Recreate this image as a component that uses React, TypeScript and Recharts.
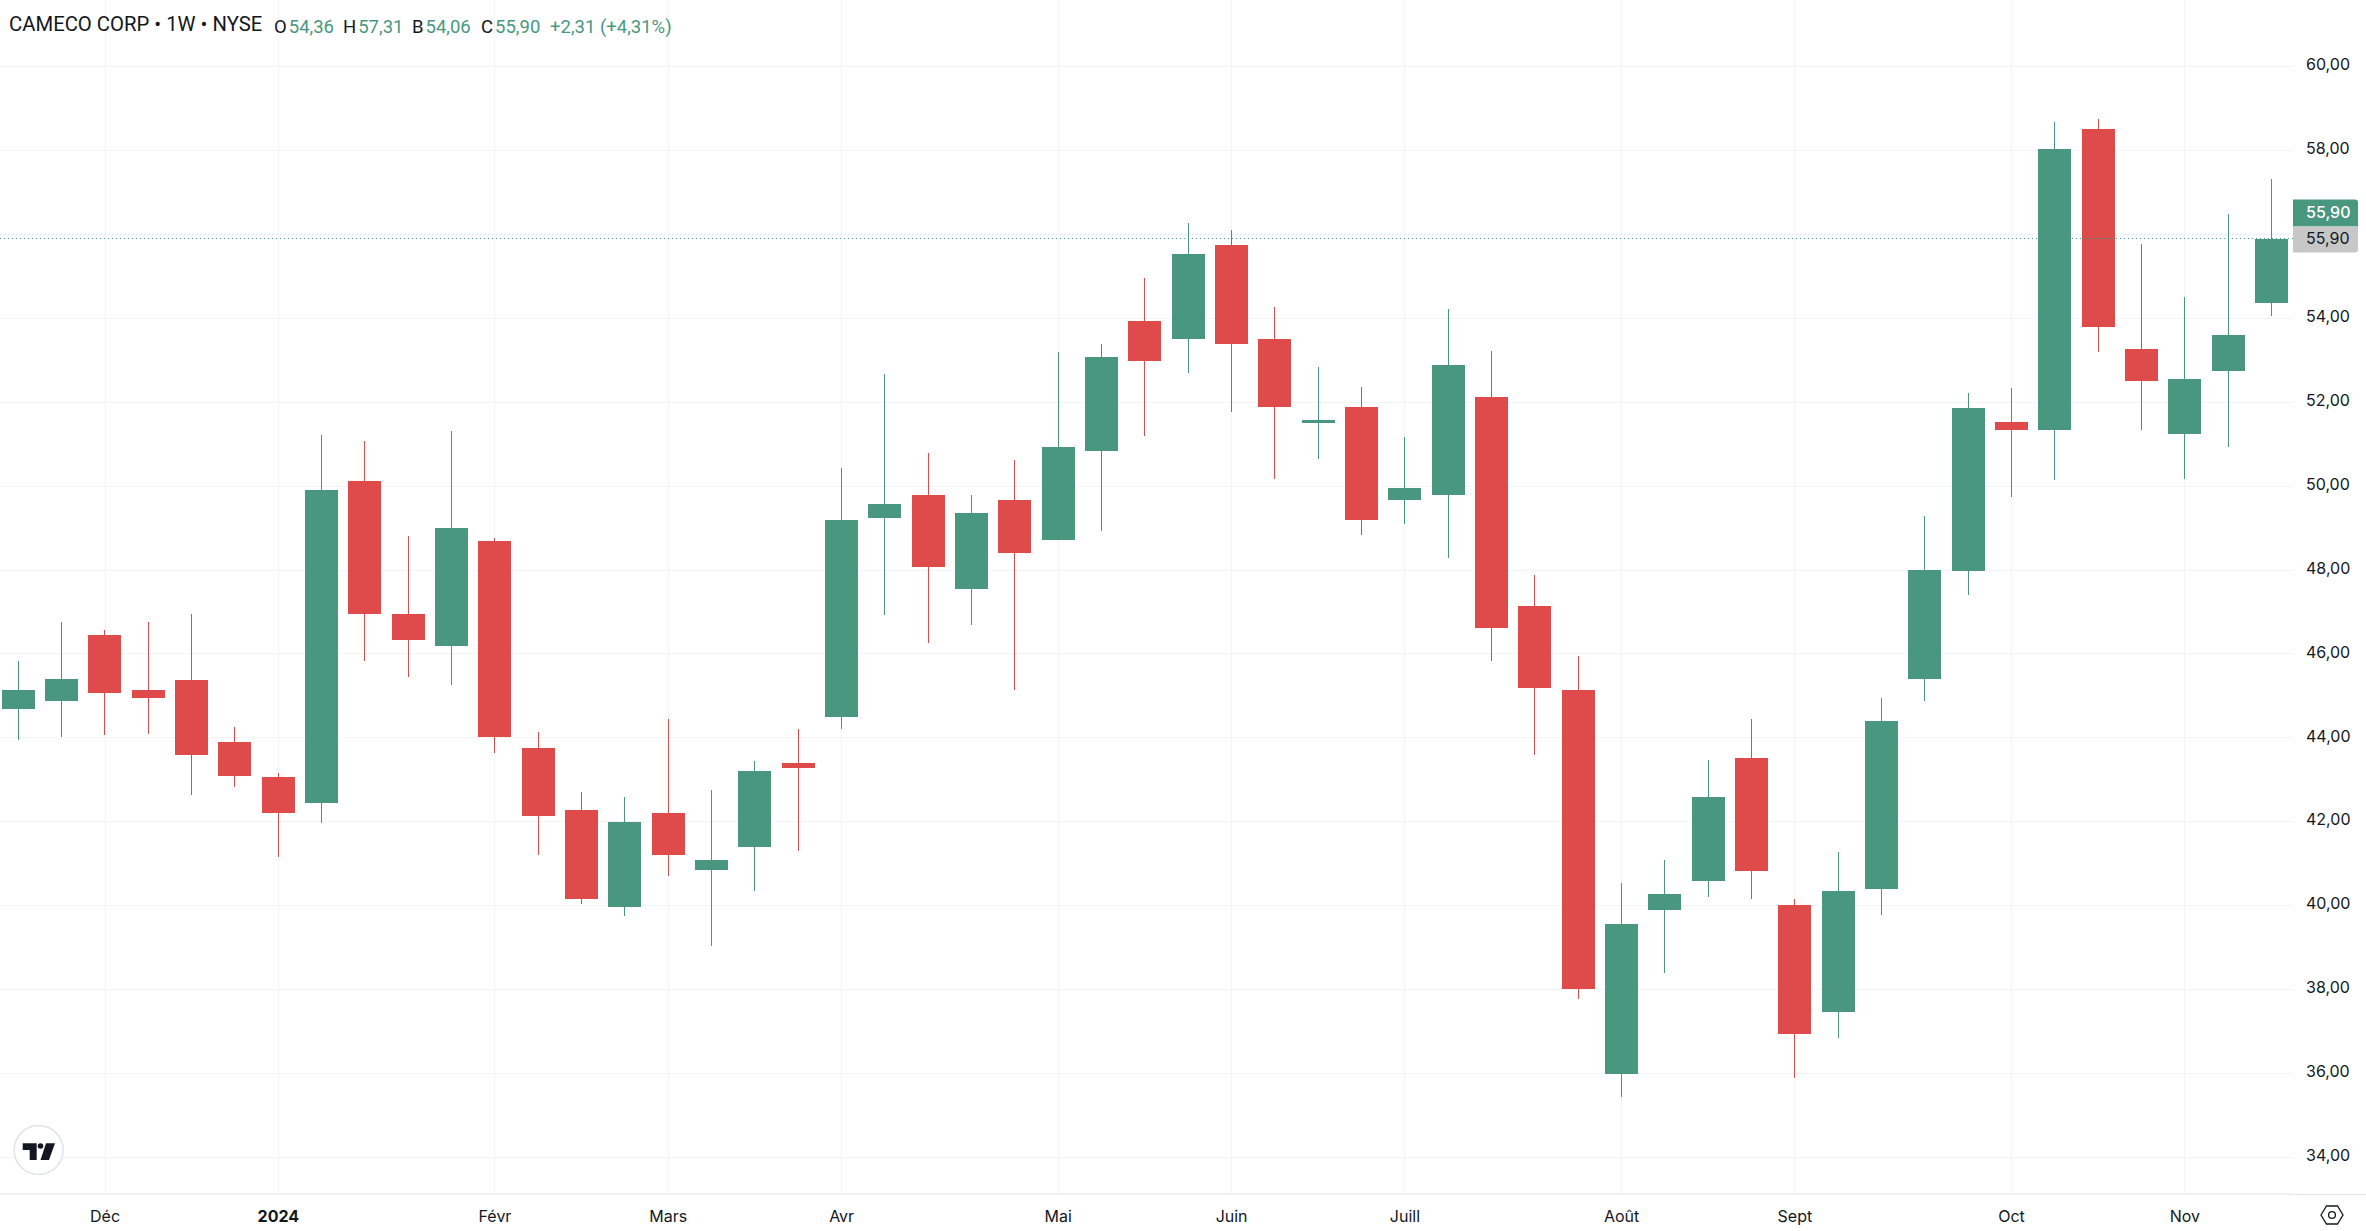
import { Bar, CartesianGrid, ComposedChart, ReferenceLine, XAxis, YAxis } from "recharts";

const UP = "#4a9780";
const DOWN = "#df4a4a";
const INK = "#131722";
const GRID = "#f3f4f5";
const FONT = "Inter, sans-serif";
const HEAD_FONT = "Roboto, sans-serif";

// weekly candles, one entry per week
const opens = [44.70, 44.87, 46.46, 45.13, 45.37, 43.91, 43.06, 42.46, 50.13, 46.96, 46.20, 48.70, 43.75, 42.29, 39.96, 42.22, 40.86, 41.39, 43.41, 44.50, 49.25, 49.79, 47.56, 49.67, 48.72, 50.84, 53.94, 53.51, 55.75, 53.51, 51.51, 51.89, 49.67, 49.79, 52.13, 47.15, 45.15, 35.98, 39.91, 40.58, 43.53, 40.01, 37.46, 40.39, 45.41, 47.98, 51.53, 51.34, 58.51, 53.27, 51.25, 52.75, 54.36];
const highs = [45.84, 46.77, 46.58, 46.77, 46.96, 44.25, 43.17, 51.22, 51.08, 48.82, 51.32, 48.77, 44.15, 42.72, 42.58, 44.46, 42.75, 43.44, 44.20, 50.44, 52.67, 50.80, 49.79, 50.63, 53.20, 53.39, 54.96, 56.27, 56.10, 54.27, 52.84, 52.37, 51.17, 54.22, 53.22, 47.89, 45.96, 40.53, 41.10, 43.48, 44.46, 40.17, 41.29, 44.96, 49.29, 52.22, 52.34, 58.67, 58.75, 55.77, 54.51, 56.48, 57.31];
const lows = [43.96, 44.03, 44.06, 44.10, 42.65, 42.84, 41.17, 41.96, 45.84, 45.46, 45.27, 43.65, 41.22, 40.03, 39.75, 40.70, 39.03, 40.36, 41.31, 44.22, 46.94, 46.27, 46.70, 45.13, 48.72, 48.94, 51.20, 52.70, 51.77, 50.17, 50.65, 48.84, 49.10, 48.29, 45.84, 43.60, 37.77, 35.44, 38.39, 40.20, 40.15, 35.89, 36.84, 39.79, 44.87, 47.41, 49.75, 50.15, 53.20, 51.34, 50.17, 50.94, 54.06];
const closes = [45.13, 45.41, 45.06, 44.94, 43.60, 43.08, 42.22, 49.91, 46.96, 46.34, 49.01, 44.03, 42.15, 40.17, 41.99, 41.20, 41.10, 43.20, 43.29, 49.20, 49.58, 48.08, 49.37, 48.41, 50.94, 53.08, 52.98, 55.53, 53.39, 51.89, 51.58, 49.20, 49.96, 52.89, 46.63, 45.20, 38.01, 39.56, 40.27, 42.60, 40.82, 36.94, 40.34, 44.41, 48.01, 51.87, 51.34, 58.03, 53.79, 52.51, 52.56, 53.60, 55.90];

const priceTicks = [34, 36, 38, 40, 42, 44, 46, 48, 50, 52, 54, 56, 58, 60];
const monthLabels = ["Déc", "2024", "Févr", "Mars", "Avr", "Mai", "Juin", "Juill", "Août", "Sept", "Oct", "Nov"];
const monthWeeks = [2, 6, 11, 15, 19, 24, 28, 32, 37, 41, 46, 50];

const headerFields = [
  { name: "O", value: "54,36", left: 274 },
  { name: "H", value: "57,31", left: 343 },
  { name: "B", value: "54,06", left: 412 },
  { name: "C", value: "55,90", left: 481 },
];

const candles = opens.map((open, i) => ({
  week: i,
  open,
  high: highs[i],
  low: lows[i],
  close: closes[i],
  wick: [lows[i], highs[i]],
  body: [Math.min(open, closes[i]), Math.max(open, closes[i])],
}));

const lastClose = closes[closes.length - 1];
const fmt = (v: number) => v.toFixed(2).replace(".", ",");
const weekDomain = [-0.4235, 52.496];
const priceDomain = [33.13, 61.585];

// pixel-snapped rect so bodies and wicks stay sharp like the original
function CandlePart({ x, y, width, height, payload }: any) {
  const top = Math.round(y);
  const h = Math.max(1, Math.round(y + height) - top);
  return <rect x={Math.round(x)} y={top} width={width} height={h} fill={payload.close >= payload.open ? UP : DOWN} />;
}

function MonthTick({ x, y, payload }: any) {
  const label = monthLabels[monthWeeks.indexOf(payload.value)];
  return (
    <text x={x} y={y + 20} textAnchor="middle" fontFamily={FONT} fontSize={16}
      fontWeight={label === "2024" ? 700 : 400} fill={INK}>{label}</text>
  );
}

function PriceTag({ viewBox }: any) {
  const x = viewBox.x + viewBox.width;
  const y = viewBox.y;
  const text = fmt(lastClose);
  return (
    <g>
      <path d={`M${x} ${y - 39}h62a3 3 0 0 1 3 3v24h-65z`} fill={UP} />
      <path d={`M${x} ${y - 12}h65v23a3 3 0 0 1 -3 3h-62z`} fill="#c7c7c7" />
      <text x={x + 13} y={y - 21} fontFamily={FONT} fontSize={16} fontWeight={500} fill="#fff">{text}</text>
      <text x={x + 13} y={y + 5} fontFamily={FONT} fontSize={16} fill={INK}>{text}</text>
    </g>
  );
}

export default function App() {
  return (
    <div style={{ position: "absolute", left: 0, top: 0, width: 2366, height: 1231, background: "#fff", overflow: "hidden" }}>
      <ComposedChart width={2366} height={1231} data={candles} margin={{ top: 0, right: 0, left: 0, bottom: 0 }}>
        <CartesianGrid stroke={GRID} strokeWidth={1} xAxisId="main" shapeRendering="crispEdges" syncWithTicks />
        <XAxis xAxisId="main" type="number" dataKey="week" domain={weekDomain} allowDataOverflow
          ticks={monthWeeks} interval={0} height={37} tick={<MonthTick />} tickLine={false}
          axisLine={{ stroke: "#e0e3eb" }} />
        <XAxis xAxisId="wicks" type="number" dataKey="week" domain={weekDomain} allowDataOverflow hide />
        <YAxis orientation="right" domain={priceDomain} allowDataOverflow ticks={priceTicks} interval={0}
          width={73} tickFormatter={(v: number) => (v === 56 ? "" : fmt(v))} axisLine={false} tickLine={false}
          tick={{ fill: INK, fontSize: 16, fontFamily: FONT, dx: 5, dy: -2 }} />
        <Bar xAxisId="wicks" dataKey="wick" barSize={1} isAnimationActive={false} shape={<CandlePart />} />
        <Bar xAxisId="main" dataKey="body" barSize={33} isAnimationActive={false} shape={<CandlePart />} />
        <ReferenceLine xAxisId="main" y={lastClose} stroke={UP} strokeDasharray="1 3" label={<PriceTag />} />
      </ComposedChart>

      <div style={{ position: "absolute", left: 2293, top: 1194, width: 73, height: 1, background: "#e0e3eb" }} />

      <div style={{ position: "absolute", left: 9, top: 12, fontFamily: HEAD_FONT, fontSize: 20.3, color: INK, whiteSpace: "nowrap" }}>
        CAMECO CORP • 1W • NYSE
      </div>
      {headerFields.map((f) => (
        <div key={f.name} style={{ position: "absolute", left: f.left, top: 16, fontFamily: HEAD_FONT, fontSize: 18.5, whiteSpace: "nowrap" }}>
          <span style={{ color: INK, marginRight: 2 }}>{f.name}</span>
          <span style={{ color: UP }}>{f.value}</span>
        </div>
      ))}
      <div style={{ position: "absolute", left: 550, top: 16, fontFamily: HEAD_FONT, fontSize: 18.5, color: UP, whiteSpace: "nowrap" }}>
        +2,31 (+4,31%)
      </div>

      <svg style={{ position: "absolute", left: 0, top: 1110 }} width={80} height={80}>
        <circle cx={38.7} cy={40} r={24.5} fill="#fff" stroke="#e0e3eb" strokeWidth={1.5} />
        <path d="M22.7 33.3h14v16.7h-7v-10h-7z" fill={INK} />
        <circle cx={40.5} cy={36} r={2.8} fill={INK} />
        <path d="M46 33.3h9l-6 16.7h-8.5z" fill={INK} />
      </svg>
      <svg style={{ position: "absolute", left: 2319, top: 1204 }} width={26} height={22}>
        <path d="M2 11l5.5-9h11l5.5 9-5.5 9h-11z" fill="none" stroke={INK} strokeWidth={1.3} />
        <circle cx={13} cy={11} r={3.4} fill="none" stroke={INK} strokeWidth={1.3} />
      </svg>
    </div>
  );
}
